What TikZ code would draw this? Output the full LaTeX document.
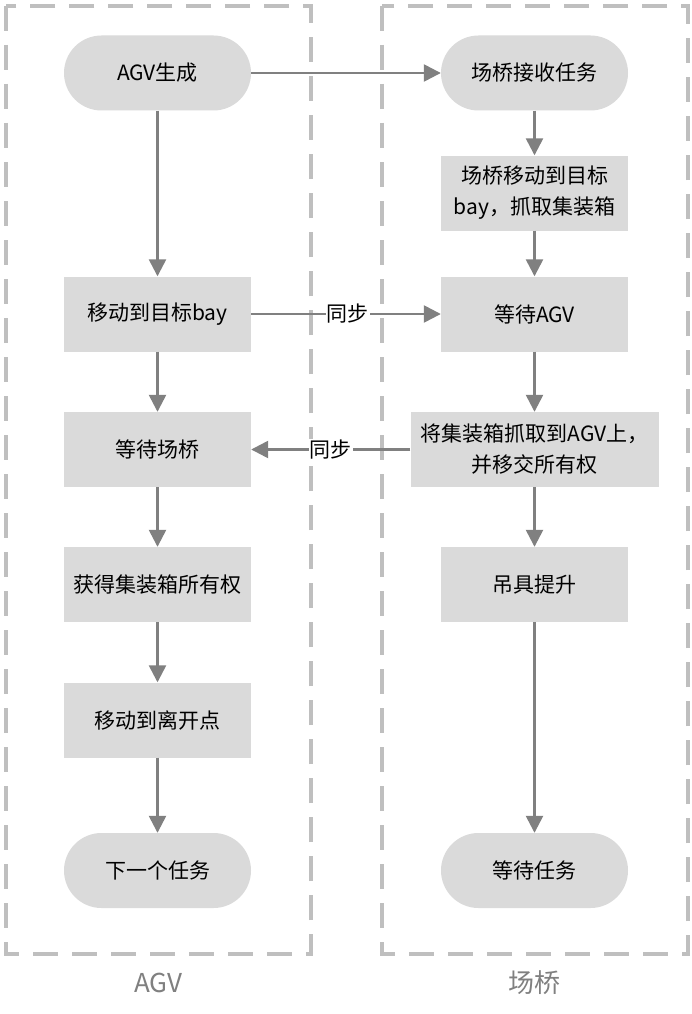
\documentclass[tikz,border=0pt]{standalone}
\usepackage{fontspec}
\setmainfont{Noto Sans CJK SC}
\usetikzlibrary{arrows.meta}
\definecolor{boxfill}{HTML}{DADADA}
\definecolor{arrowgray}{HTML}{808080}
\definecolor{dashgray}{HTML}{BFBFBF}
\tikzset{
  x=1pt, y=-1pt,
  proc/.style={fill=boxfill, draw=none, minimum width=187pt, minimum height=75pt, inner sep=2pt, align=center, font=\fontsize{21}{31}\selectfont},
  pill/.style={proc, rounded corners=37.5pt},
  flow/.style={draw=arrowgray, line width=2.5pt, -{Triangle[length=17pt,width=17pt]}},
  lane/.style={draw=dashgray, line width=3.5pt, dash pattern=on 25pt off 14pt},
  lanelabel/.style={text=arrowgray, font=\fontsize{26}{30}\selectfont},
  synclabel/.style={fill=white, inner sep=1pt, font=\fontsize{21}{24}\selectfont}
}
\begin{document}
\begin{tikzpicture}
\useasboundingbox (0,0) rectangle (692,1014);
\fill[white] (0,0) rectangle (692,1014);
% lanes
\draw[lane] (6,6) rectangle (311,954);
\draw[lane] (382,6) rectangle (688,954);
\node[lanelabel] (lblA) at (158,983) {AGV};
\node[lanelabel] (lblB) at (534,983) {场桥};
% AGV nodes
\node[pill] (a1) at (157.5,73) {AGV生成};
\node[proc] (a2) at (157.5,314) {移动到目标bay};
\node[proc] (a3) at (157.5,449.5) {等待场桥};
\node[proc] (a4) at (157.5,584.5) {获得集装箱所有权};
\node[proc] (a5) at (157.5,720) {移动到离开点};
\node[pill] (a6) at (157.5,870.5) {下一个任务};
% crane nodes
\node[pill] (b1) at (534.5,73) {场桥接收任务};
\node[proc] (b2) at (534.5,193) {场桥移动到目标\\bay，抓取集装箱};
\node[proc] (b3) at (534.5,314) {等待AGV};
\node[proc, minimum width=248pt] (b4) at (534.5,449.5) {将集装箱抓取到AGV上，\\并移交所有权};
\node[proc] (b5) at (534.5,584.5) {吊具提升};
\node[pill] (b6) at (534.5,870.5) {等待任务};
% arrows
\draw[flow] (a1) -- (b1);
\draw[flow] (a1) -- (a2);
\draw[flow] (a2) -- (a3);
\draw[flow] (a3) -- (a4);
\draw[flow] (a4) -- (a5);
\draw[flow] (a5) -- (a6);
\draw[flow] (b1) -- (b2);
\draw[flow] (b2) -- (b3);
\draw[flow] (b3) -- (b4);
\draw[flow] (b4) -- (b5);
\draw[flow] (b5) -- (b6);
\draw[flow] (a2) -- node[synclabel, pos=0.51] (s1) {同步} (b3);
\draw[flow] (b4) -- node[synclabel, pos=0.50] (s2) {同步} (a3);
\end{tikzpicture}
\end{document}
